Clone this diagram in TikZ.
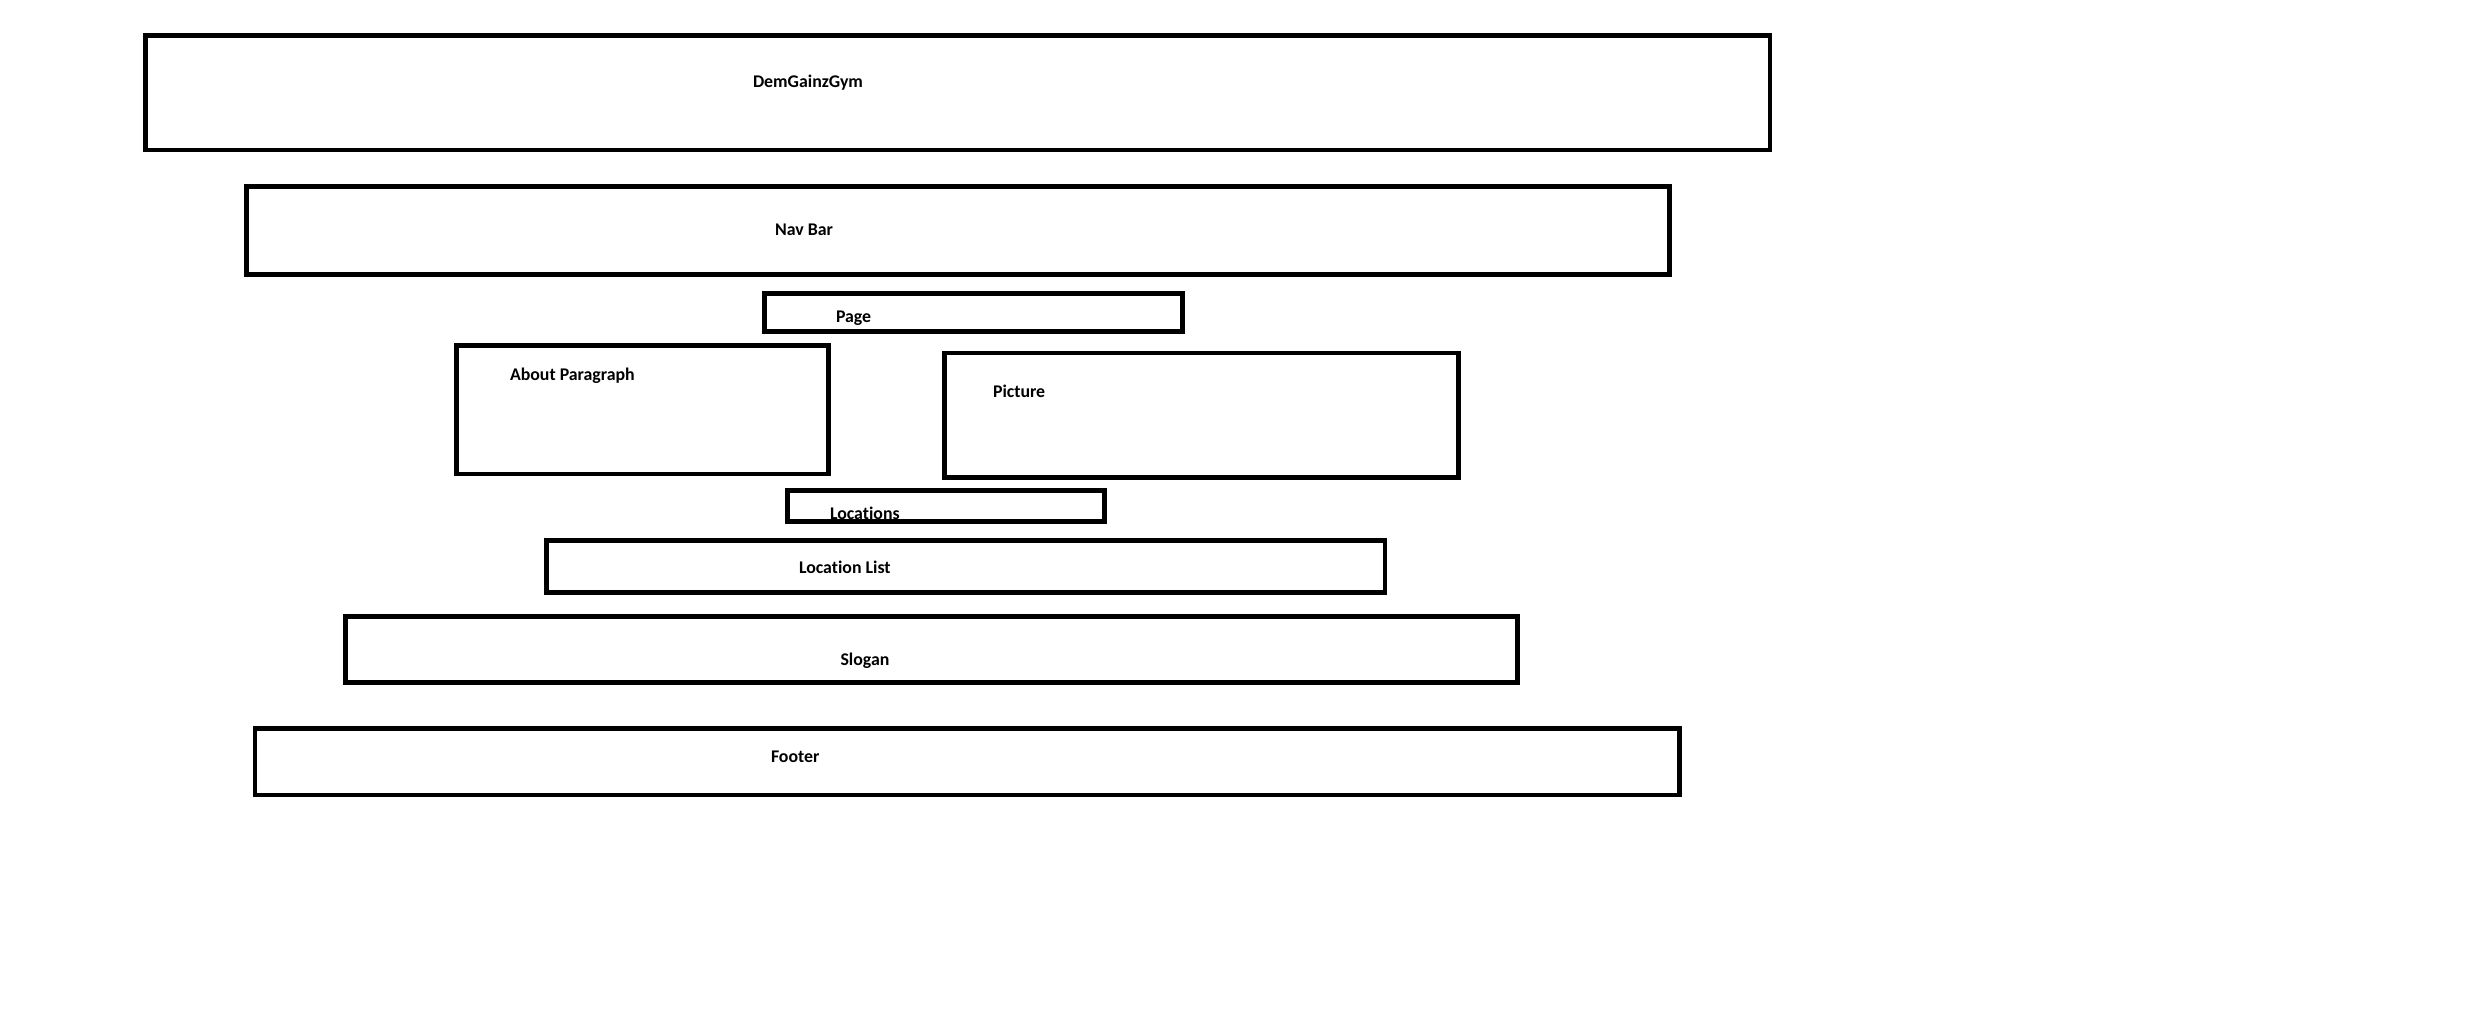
\documentclass[tikz,border=0pt]{standalone}
\usepackage{fontspec}
\setmainfont{Carlito}[Ligatures=NoCommon]
\begin{document}
\begin{tikzpicture}[x=0.01cm,y=-0.01cm,
  box/.style={draw=black, line width=0.048cm, line join=miter, rectangle, inner sep=0pt, outer sep=0pt},
  lbl/.style={anchor=base west, inner sep=0pt, outer sep=0pt, text=black,
    font=\fontsize{5.07pt}{6pt}\selectfont\bfseries}]
  % page area
  \fill[white] (0,0) rectangle (2485,1027);
  \useasboundingbox (0,0) rectangle (2485,1027);

  % layout blocks
  \node[box, minimum width=16.236cm, minimum height=1.145cm] (header)   at (957.8,92.75)  {};
  \node[box, minimum width=14.223cm, minimum height=0.882cm] (navbar)   at (957.85,230.4) {};
  \node[box, minimum width=4.178cm,  minimum height=0.379cm] (page)     at (973.4,312.25) {};
  \node[box, minimum width=3.717cm,  minimum height=1.285cm] (about)    at (642.85,409.75){};
  \node[box, minimum width=5.144cm,  minimum height=1.242cm] (picture)  at (1201.5,415.1) {};
  \node[box, minimum width=3.175cm,  minimum height=0.308cm] (locs)     at (945.95,505.9) {};
  \node[box, minimum width=8.379cm,  minimum height=0.515cm] (loclist)  at (965.75,566.55){};
  \node[box, minimum width=11.72cm,  minimum height=0.656cm] (slogan)   at (931.5,649.5)  {};
  \node[box, minimum width=14.238cm, minimum height=0.668cm] (footer)   at (967.4,761.6)  {};

  % block captions
  \node[lbl] (headerT)  at (753,87.3)   {DemGainzGym};
  \node[lbl] (navbarT)  at (775,235.5)  {Nav Bar};
  \node[lbl] (pageT)    at (836,322.7)  {Page};
  \node[lbl] (aboutT)   at (510,380)    {About Paragraph};
  \node[lbl] (pictureT) at (993,397.5)  {Picture};
  \node[lbl] (locsT)    at (830,519.5)  {Locations};
  \node[lbl] (loclistT) at (799,573)    {Location List};
  \node[lbl] (sloganT)  at (840.5,665)  {Slogan};
  \node[lbl] (footerT)  at (771,762)    {Footer};
\end{tikzpicture}
\end{document}
